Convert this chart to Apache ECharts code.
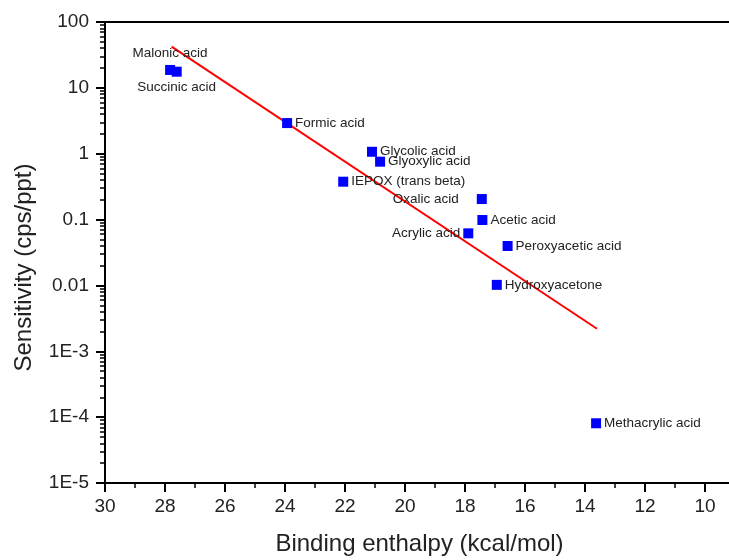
<!DOCTYPE html>
<html>
<head>
<meta charset="utf-8">
<script src="https://cdn.jsdelivr.net/npm/echarts@6/dist/echarts.min.js"></script>
<style>
  html, body { margin: 0; padding: 0; background: #fff; }
  #chart { width: 729px; height: 560px; }
</style>
</head>
<body>
<div id="chart"></div>
<script>
// compounds, binding enthalpy (kcal/mol) and sensitivity (cps/ppt)
const compounds = ['Malonic acid', 'Succinic acid', 'Formic acid', 'Glycolic acid', 'Glyoxylic acid',
  'IEPOX (trans beta)', 'Oxalic acid', 'Acetic acid', 'Acrylic acid', 'Peroxyacetic acid',
  'Hydroxyacetone', 'Methacrylic acid']
const enthalpy = [27.83, 27.61, 23.93, 21.1, 20.83, 22.06, 17.44, 17.42, 17.89, 16.58, 16.94, 13.63]
const sensitivity = [18.7, 17.6, 2.92, 1.07, 0.757, 0.376, 0.205, 0.0986, 0.0618, 0.0397, 0.0102, 8.07e-5]

// fitted line end points
const fitX = [27.78, 13.6]
const fitY = [42.2, 0.0022]

const yTickLabels = ['1E-5', '1E-4', '1E-3', '0.01', '0.1', '1', '10', '100']
const xTicks = [30, 28, 26, 24, 22, 20, 18, 16, 14, 12, 10]

// where each label sits relative to its marker
const labelPlace = {
  'Malonic acid': { position: 'top', distance: 5 },
  'Succinic acid': { position: 'bottom', distance: 4 },
  'Oxalic acid': { position: 'left', distance: 18 },
  'Acrylic acid': { position: 'left', distance: 3 }
}

const majorY = []
const minorY = []
for (let e = -5; e <= 2; e++) {
  majorY.push(Math.pow(10, e))
  if (e < 2) {
    for (let m = 2; m <= 9; m++) minorY.push(m * Math.pow(10, e))
  }
}

const chart = echarts.init(document.getElementById('chart'))

const fontFamily = '"Liberation Sans", Arial, sans-serif'

const points = compounds.map((name, i) => {
  const place = labelPlace[name] || { position: 'right', distance: 3 }
  return {
    name: name,
    value: [enthalpy[i], sensitivity[i]],
    label: { show: true, position: place.position, distance: place.distance }
  }
})

const option = {
  animation: false,
  grid: {
    left: 105,
    right: -36,
    top: 22,
    bottom: 77,
    outerBoundsMode: 'none',
    containLabel: false,
    show: true,
    borderColor: '#000',
    borderWidth: 2
  },
  xAxis: {
    type: 'value',
    inverse: true,
    min: 8,
    max: 30,
    interval: 2,
    name: 'Binding enthalpy (kcal/mol)',
    nameLocation: 'middle',
    nameGap: 49,
    nameTextStyle: { fontSize: 24, color: '#222', fontFamily: fontFamily, padding: [0, 31, 0, 0] },
    axisLine: { lineStyle: { color: '#000', width: 2 } },
    axisTick: { inside: false, length: 9, lineStyle: { color: '#000', width: 2 } },
    minorTick: { show: true, splitNumber: 2, length: 5, lineStyle: { color: '#000', width: 1.5 } },
    axisLabel: {
      fontSize: 19, color: '#222', fontFamily: fontFamily, margin: 14,
      formatter: v => xTicks.indexOf(v) >= 0 ? String(v) : ''
    },
    splitLine: { show: false }
  },
  yAxis: [
    {
      type: 'log',
      logBase: 10,
      min: 1e-5,
      max: 100,
      name: 'Sensitivity (cps/ppt)',
      nameLocation: 'middle',
      nameGap: 69,
      nameTextStyle: { fontSize: 24, color: '#222', fontFamily: fontFamily, padding: [0, 30, 0, 0] },
      axisLine: { show: true, lineStyle: { color: '#000', width: 2 } },
      axisTick: { show: true, length: 9, customValues: majorY, lineStyle: { color: '#000', width: 2 } },
      axisLabel: {
        fontSize: 19, color: '#222', fontFamily: fontFamily, margin: 16,
        customValues: majorY,
        formatter: v => yTickLabels[Math.round(Math.log10(v)) + 5]
      },
      splitLine: { show: false }
    },
    {
      type: 'log',
      logBase: 10,
      min: 1e-5,
      max: 100,
      position: 'left',
      axisLine: { show: false },
      axisTick: { show: true, length: 5, customValues: minorY, lineStyle: { color: '#000', width: 1.5 } },
      axisLabel: { show: false },
      splitLine: { show: false }
    }
  ],
  series: [
    {
      type: 'line',
      data: fitX.map((x, i) => [x, fitY[i]]),
      symbol: 'none',
      lineStyle: { color: '#ff0000', width: 2 },
      z: 3
    },
    {
      type: 'scatter',
      data: points,
      symbol: 'rect',
      symbolSize: 10,
      itemStyle: { color: '#0000ff', opacity: 1 },
      label: {
        formatter: p => p.name,
        fontSize: 13.5,
        color: '#222',
        fontFamily: fontFamily
      },
      z: 4
    }
  ]
}

chart.setOption(option)
</script>
</body>
</html>
